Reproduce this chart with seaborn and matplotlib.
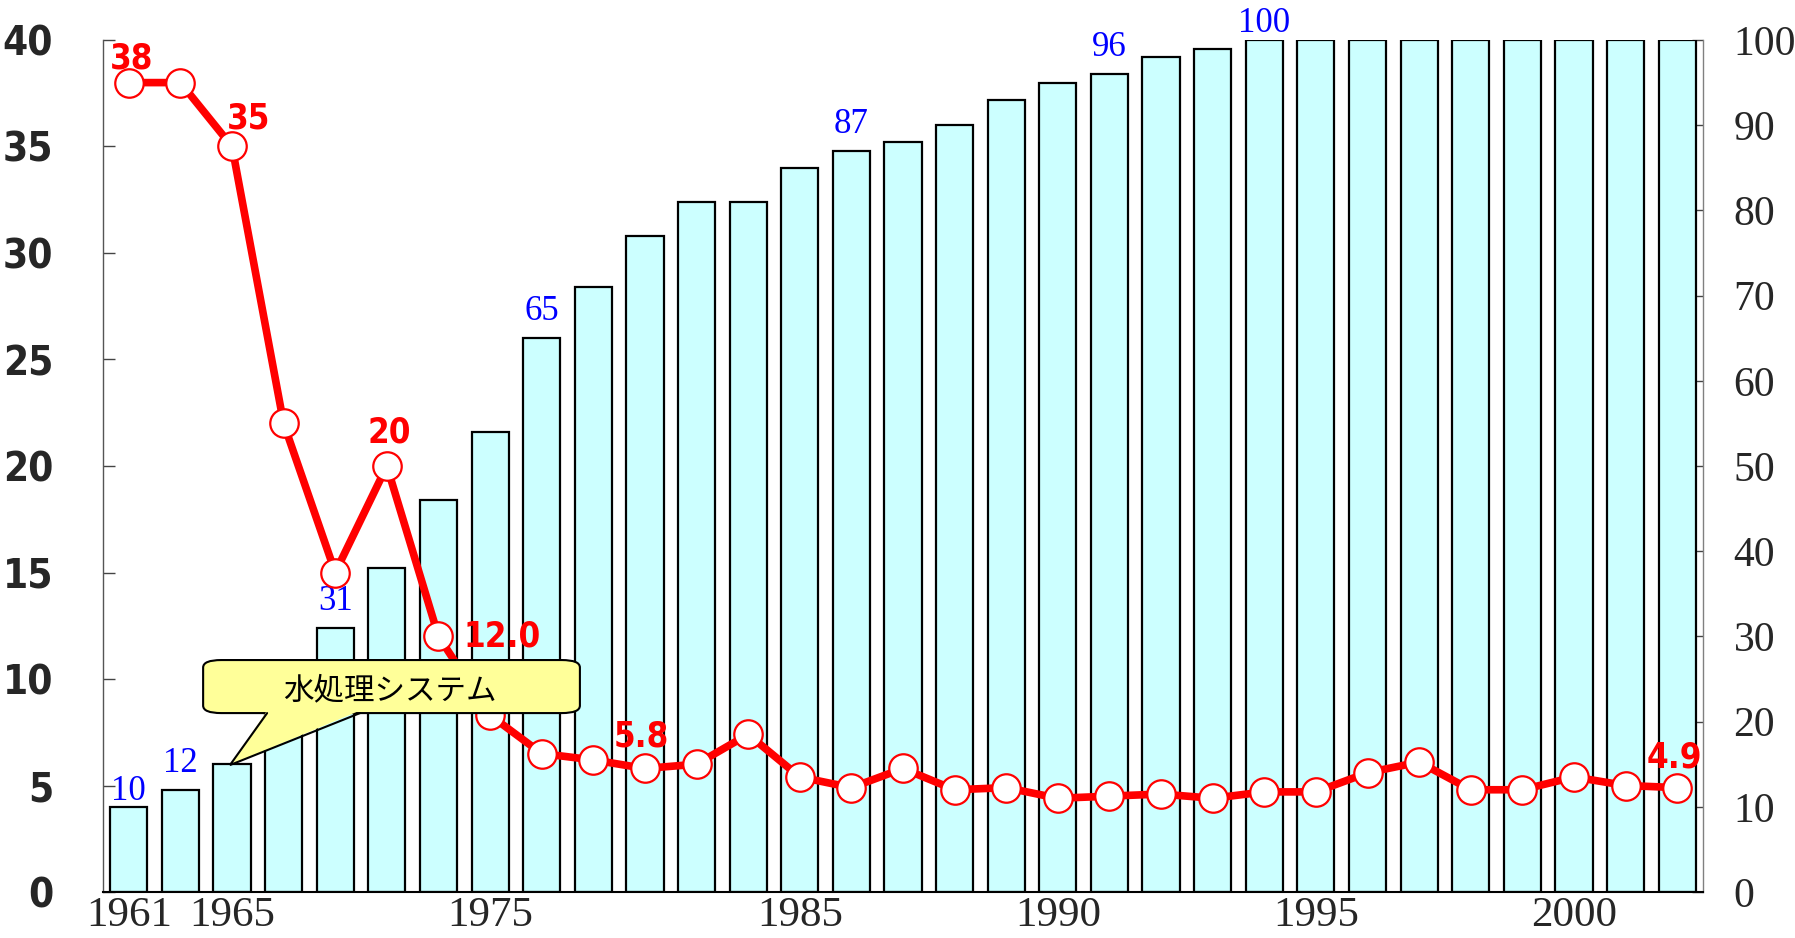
import numpy as np
import pandas as pd
import matplotlib
matplotlib.use("Agg")
import matplotlib.pyplot as plt
import seaborn as sns
from matplotlib.patches import FancyBboxPatch, Polygon
from matplotlib.font_manager import findfont, FontProperties

# ---------------- data ----------------
tick_labels = ["1961", "", "1965", "", "", "", "", "1975", "", "", "", "", "", "1985",
               "", "", "", "", "1990", "", "", "", "", "1995", "", "", "", "", "2000", "", ""]
coverage = [10, 12, 15, 22, 31, 38, 46, 54, 65, 71, 77, 81, 81, 85, 87, 88, 90, 93,
            95, 96, 98, 99, 100, 100, 100, 100, 100, 100, 100, 100, 100]
incidence = [38, 38, 35, 22, 15, 20, 12.0, 8.3, 6.5, 6.2, 5.8, 6.0, 7.4, 5.4, 4.9, 5.8,
             4.8, 4.9, 4.4, 4.5, 4.6, 4.4, 4.7, 4.7, 5.6, 6.1, 4.8, 4.8, 5.4, 5.0, 4.9]
bar_labels = {0: "10", 1: "12", 4: "31", 8: "65", 14: "87", 19: "96", 22: "100"}
line_labels = {0: "38", 2: "35", 5: "20", 6: "12.0", 10: "5.8", 30: "4.9"}
callout_text = "水処理システム"

pos = np.arange(len(coverage))
df = pd.DataFrame({"pos": pos, "coverage": coverage, "incidence": incidence})

# ---------------- style ----------------
sns.set_style("white")
plt.rcParams["font.family"] = ["DejaVu Sans"]
serif = ["Liberation Serif", "DejaVu Serif"]
cjk = ["Noto Sans CJK JP", "DejaVu Sans"]

# pick a narrow bold sans if one is available
_cond = findfont(FontProperties(family="DejaVu Sans", stretch="condensed", weight="bold"),
                 fallback_to_default=True)
if "Condensed" in _cond:
    narrow_kw = dict(fontfamily=["DejaVu Sans"], fontstretch="condensed", fontweight="bold")
else:
    narrow_kw = dict(fontfamily=["Noto Sans CJK JP", "DejaVu Sans"], fontweight="bold")

W, H = 1795, 938
fig = plt.figure(figsize=(W / 100, H / 100), dpi=100)
fig.patch.set_facecolor("white")
L, R, T, B = 103, 1703, 40, 892
ax = fig.add_axes([L / W, 1 - B / H, (R - L) / W, (B - T) / H])
ax2 = ax.twinx()

# bars on right axis
sns.barplot(data=df, x="pos", y="coverage", ax=ax2, color="#CCFFFF", saturation=1,
            edgecolor="black", linewidth=1.6, width=0.72, errorbar=None)
ax2.set_ylim(0, 100)
ax2.set_yticks(np.arange(0, 101, 10))
ax2.set_ylabel("")

# line on left axis
sns.lineplot(data=df, x="pos", y="incidence", ax=ax, color="red", lw=5.5, marker="o",
             markersize=20.5, markerfacecolor="white", markeredgecolor="red",
             markeredgewidth=1.6, zorder=5)
ax.set_ylim(0, 40)
ax.set_yticks(np.arange(0, 41, 5))
ax.set_xlim(-0.5, len(coverage) - 0.5)
ax.set_ylabel("")
ax.set_xlabel("")
ax2.set_xlabel("")

ax.set_zorder(ax2.get_zorder() + 1)
ax.patch.set_visible(False)

# x ticks
ax.set_xticks(pos)
ax.set_xticklabels(tick_labels, fontfamily=serif, fontsize=31)
ax.set_xticks(pos[:-1] + 0.5, minor=True)
ax.tick_params(axis="x", which="major", length=0, pad=3)
ax.tick_params(axis="x", which="minor", direction="in", length=4, width=1, color="#808080")

# y ticks
ax.tick_params(axis="y", which="major", direction="in", length=8.5, width=1, color="#444444", pad=36)
for t in ax.get_yticklabels():
    t.set_fontsize(29)
    for k, v in narrow_kw.items():
        getattr(t, "set_" + k)(v)
ax2.tick_params(axis="y", which="major", direction="in", length=8, width=1, color="#444444", pad=22)
for t in ax2.get_yticklabels():
    t.set_fontfamily(serif)
    t.set_fontsize(30)

# spines
for s in ["top", "right"]:
    ax.spines[s].set_visible(False)
ax.spines["left"].set_color("#555555")
ax.spines["left"].set_linewidth(1)
ax.spines["bottom"].set_color("black")
ax.spines["bottom"].set_linewidth(1.5)
for s in ["top", "left", "bottom"]:
    ax2.spines[s].set_visible(False)
ax2.spines["right"].set_color("#808080")
ax2.spines["right"].set_linewidth(1)

# bar labels (blue)
bar_off = {0: 11, 22: 12}
for i, txt in bar_labels.items():
    ax2.annotate(txt, (pos[i], coverage[i]), xytext=(0, bar_off.get(i, 19)),
                 textcoords="offset points", ha="center", va="center",
                 color="#0000FF", fontsize=25, fontfamily=serif)

# line labels (red)
line_off = {0: (2, 17, "center"), 2: (12, 20, "center"), 5: (2, 24, "center"),
            6: (18, 0, "left"), 10: (-3, 23, "center"), 30: (-2, 22, "center")}
for i, txt in line_labels.items():
    dx, dy, ha = line_off[i]
    ax.annotate(txt, (pos[i], incidence[i]), xytext=(dx, dy), textcoords="offset points",
                ha=ha, va="center", color="red", fontsize=25, zorder=6, **narrow_kw)

# callout
yellow = "#FFFF99"
box = FancyBboxPatch((1.44, 8.40), 8.74 - 1.44, 10.89 - 8.40,
                     boxstyle="round,pad=0,rounding_size=0.35", mutation_aspect=1.0,
                     facecolor=yellow, edgecolor="black", linewidth=1.5, zorder=10)
ax.add_patch(box)
wedge = Polygon([(2.68, 8.52), (1.96, 5.96), (4.48, 8.52)], closed=True,
                facecolor=yellow, edgecolor="none", zorder=11)
ax.add_patch(wedge)
ax.plot([2.68, 1.96, 4.48], [8.40, 5.96, 8.40], color="black", lw=1.5, zorder=12,
        solid_joinstyle="miter")
ax.text(5.06, 9.45, callout_text, ha="center", va="center", fontsize=22,
        fontfamily=cjk, color="black", zorder=13)

fig.savefig("out.png", dpi=100)
